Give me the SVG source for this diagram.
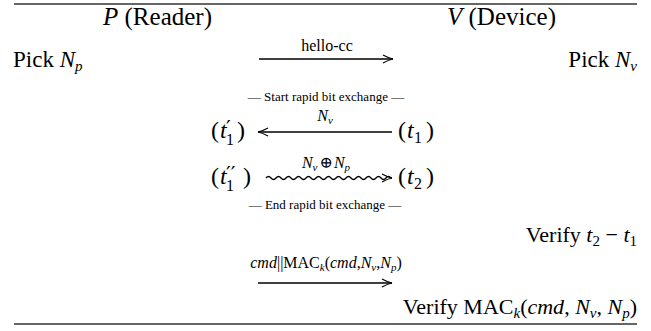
<svg xmlns="http://www.w3.org/2000/svg" width="651" height="331" viewBox="0 0 651 331">
<defs>
<style>
text{font-family:"Liberation Serif","DejaVu Serif",serif;fill:#000}
.hd{font-size:25px}
.pk{font-size:23px}
.vf{font-size:22px}
.tt{font-size:24px}
.sb{font-size:16px}
.pr{font-size:21px;font-family:"DejaVu Serif",serif}
.lab{font-size:16px}
.sm{font-size:13px}
.it{font-style:italic}
.rule{stroke:#666;stroke-width:2;fill:none}
.ln{stroke:#000;stroke-width:1.3;fill:none}
</style>
<marker id="ah" viewBox="0 0 12 10" refX="11" refY="5" markerWidth="12" markerHeight="10" markerUnits="userSpaceOnUse" orient="auto">
<path d="M1,1 Q7,4.3 11,5 Q7,5.7 1,9" fill="none" stroke="#000" stroke-width="1.2"/>
</marker>
</defs>
<g id="rules">
<line class="rule" x1="14" y1="4" x2="637" y2="4"/>
<line class="rule" x1="14" y1="324" x2="637" y2="324"/>
</g>
<g id="reader">
<text class="hd" x="103" y="25"><tspan class="it">P</tspan> (Reader)</text>
<text class="pk" x="13" y="67">Pick <tspan class="it">N</tspan><tspan class="it" font-size="15" dy="4">p</tspan></text>
<g id="t1prime">
<text class="tt" x="211" y="138">(</text>
<text class="tt it" x="220" y="138">t</text>
<text class="pr" x="226" y="135">′</text>
<text class="sb" x="226" y="145">1</text>
<text class="tt" x="237" y="138">)</text>
</g>
<g id="t1dprime">
<text class="tt" x="211" y="184">(</text>
<text class="tt it" x="220" y="184">t</text>
<text class="pr" x="226" y="181">′′</text>
<text class="sb" x="226" y="191">1</text>
<text class="tt" x="243" y="184">)</text>
</g>
</g>
<g id="device">
<text class="hd" x="447" y="25"><tspan class="it">V</tspan> (Device)</text>
<text class="pk" x="637" y="67" text-anchor="end">Pick <tspan class="it">N</tspan><tspan class="it" font-size="15" dy="4">v</tspan></text>
<g id="t1">
<text class="tt" x="398" y="138">(</text>
<text class="tt it" x="407" y="138">t</text>
<text class="sb" x="414" y="143">1</text>
<text class="tt" x="426" y="138">)</text>
</g>
<g id="t2">
<text class="tt" x="398" y="184">(</text>
<text class="tt it" x="407" y="184">t</text>
<text class="sb" x="414" y="189">2</text>
<text class="tt" x="426" y="184">)</text>
</g>
<text class="vf" x="637" y="242" text-anchor="end">Verify <tspan class="it">t</tspan><tspan font-size="15" dy="4">2</tspan><tspan dy="-4"> − </tspan><tspan class="it">t</tspan><tspan font-size="15" dy="4">1</tspan></text>
<text class="vf" x="637" y="314" text-anchor="end">Verify MAC<tspan class="it" font-size="15" dy="4">k</tspan><tspan dy="-4">(</tspan><tspan class="it">cmd</tspan>, <tspan class="it">N</tspan><tspan class="it" font-size="15" dy="4">v</tspan><tspan dy="-4">, </tspan><tspan class="it">N</tspan><tspan class="it" font-size="15" dy="4">p</tspan><tspan dy="-4">)</tspan></text>
</g>
<g id="phase-labels">
<text class="sm" x="326" y="101" text-anchor="middle">— Start rapid bit exchange —</text>
<text class="sm" x="325" y="209" text-anchor="middle">— End rapid bit exchange —</text>
</g>
<g id="connectors">
<line class="ln" x1="259" y1="59" x2="393" y2="59" marker-end="url(#ah)"/>
<text class="lab" x="327" y="51" text-anchor="middle">hello-cc</text>
<line class="ln" x1="392" y1="132" x2="258" y2="132" marker-end="url(#ah)"/>
<text class="lab" x="325" y="121" text-anchor="middle"><tspan class="it">N</tspan><tspan class="it" font-size="11" dy="3">v</tspan></text>
<path class="ln" d="M266,178 q2.5,-3 5,0 t5,0 t5,0 t5,0 t5,0 t5,0 t5,0 t5,0 t5,0 t5,0 t5,0 t5,0 t5,0 t5,0 t5,0 t5,0 t5,0 t5,0 t5,0 t5,0 t5,0 t5,0 t5,0 t5,0 t5,0 L392,178" marker-end="url(#ah)"/>
<text class="lab" x="326" y="168" text-anchor="middle"><tspan class="it">N</tspan><tspan class="it" font-size="11" dy="3">v</tspan><tspan dx="2" dy="-3">⊕</tspan><tspan class="it" dx="1">N</tspan><tspan class="it" font-size="11" dy="3">p</tspan></text>
<line class="ln" x1="258" y1="283" x2="392" y2="283" marker-end="url(#ah)"/>
<text class="lab" x="326" y="268" text-anchor="middle"><tspan class="it">cmd</tspan>||MAC<tspan class="it" font-size="11" dy="3">k</tspan><tspan dy="-3">(</tspan><tspan class="it">cmd</tspan>,<tspan class="it">N</tspan><tspan class="it" font-size="11" dy="3">v</tspan><tspan dy="-3">,</tspan><tspan class="it">N</tspan><tspan class="it" font-size="11" dy="3">p</tspan><tspan dy="-3">)</tspan></text>
</g>
</svg>
